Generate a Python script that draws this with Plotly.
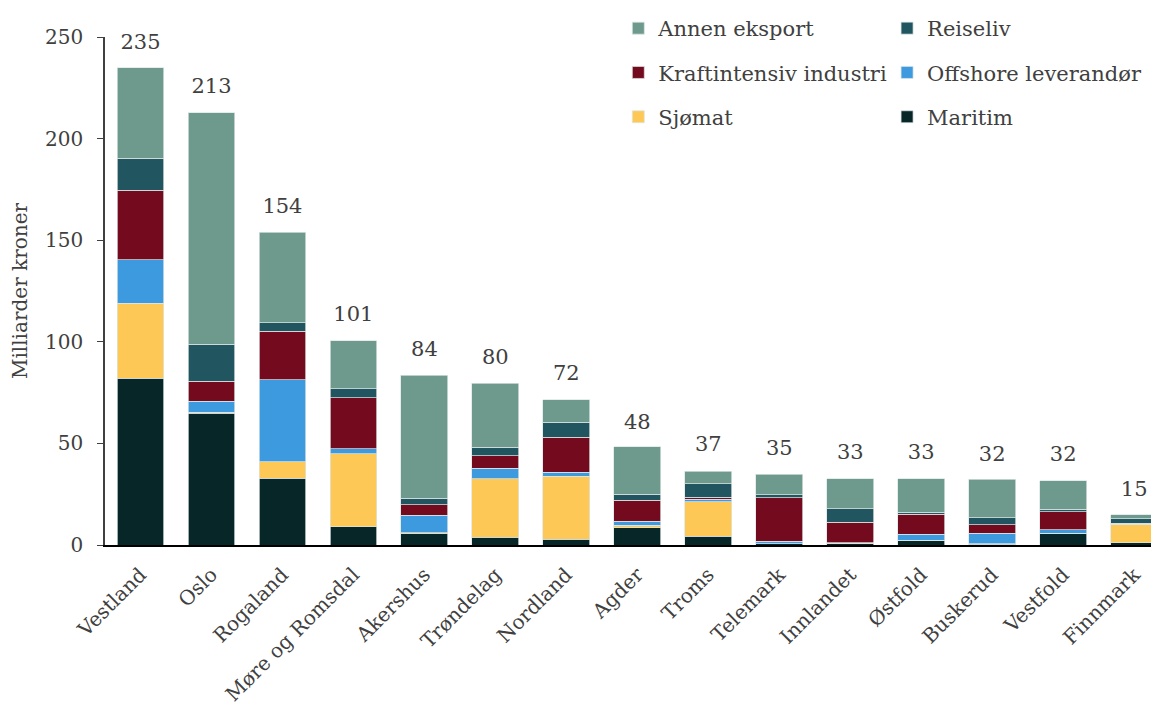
import plotly.graph_objects as go

# Eksport per fylke, milliarder kroner (lest av figuren)
fylker = ["Vestland", "Oslo", "Rogaland", "Møre og Romsdal", "Akershus", "Trøndelag",
          "Nordland", "Agder", "Troms", "Telemark", "Innlandet", "Østfold",
          "Buskerud", "Vestfold", "Finnmark"]

maritim = [82.0, 64.8, 32.9, 9.0, 5.5, 3.7, 2.8, 8.4, 4.4, 0.5, 0.5, 2.2, 0.3, 5.8, 1.1]
sjomat = [37.0, 0.6, 8.1, 35.8, 0.6, 28.9, 31.1, 1.3, 17.0, 0.0, 0.3, 0.2, 0.2, 0.0, 9.0]
offshore = [21.3, 5.3, 40.3, 2.6, 8.6, 5.1, 1.9, 1.9, 1.0, 1.3, 0.3, 2.9, 5.2, 1.6, 0.3]
kraft = [34.2, 9.9, 23.8, 25.0, 5.0, 6.3, 17.3, 10.5, 1.2, 21.4, 10.0, 9.8, 4.3, 8.9, 0.2]
reiseliv = [15.8, 18.2, 4.2, 4.4, 3.2, 4.0, 7.2, 2.9, 6.5, 1.5, 6.7, 1.0, 3.4, 1.3, 2.4]
annen = [44.6, 114.0, 44.7, 23.7, 60.6, 31.5, 11.3, 23.4, 6.3, 10.0, 14.7, 16.6, 19.0, 14.0, 2.0]

totaler = [235, 213, 154, 101, 84, 80, 72, 48, 37, 35, 33, 33, 32, 32, 15]

# navn, verdier, farge, legendekolonne, rad i legenden
serier = [
    ("Maritim", maritim, "#062628", "legend2", 3),
    ("Sjømat", sjomat, "#fec857", "legend", 3),
    ("Offshore leverandør", offshore, "#3d9ade", "legend2", 2),
    ("Kraftintensiv industri", kraft, "#740a1e", "legend", 2),
    ("Reiseliv", reiseliv, "#215560", "legend2", 1),
    ("Annen eksport", annen, "#6e9a8e", "legend", 1),
]

font_familie = "Georgia, 'DejaVu Serif', serif"
tekstfarge = "#404040"

fig = go.Figure()
for navn, verdier, farge, leg, rad in serier:
    fig.add_trace(go.Bar(
        x=fylker, y=verdier, name=navn, legend=leg, legendgroup=navn, legendrank=rad,
        marker=dict(color=farge, line=dict(color="rgba(220,228,228,0.9)", width=0.8)),
    ))

# Totaler over søylene
fig.add_trace(go.Scatter(
    x=fylker, y=totaler, mode="text+markers", text=[str(t) for t in totaler],
    textposition="top center", marker=dict(size=20, opacity=0),
    textfont=dict(family=font_familie, size=21, color=tekstfarge),
    showlegend=False, hoverinfo="skip", cliponaxis=False,
))

legende_stil = dict(
    orientation="v", traceorder="grouped", tracegroupgap=14,
    yanchor="top", xanchor="left",
    font=dict(size=21, color=tekstfarge), bgcolor="rgba(0,0,0,0)",
)

# siden ligger 8 px inn i vinduet, så figuren gjøres tilsvarende mindre
fig.update_layout(
    barmode="stack",
    bargap=0.34,
    width=1151, height=696,
    margin=dict(l=97, r=0, t=22, b=159),
    paper_bgcolor="white", plot_bgcolor="white",
    font=dict(family=font_familie, size=20, color=tekstfarge),
    legend=dict(x=0.487, y=1.058, **legende_stil),
    legend2=dict(x=0.742, y=1.058, **legende_stil),
    xaxis=dict(
        tickangle=-45, showline=True, linecolor="black", linewidth=2,
        ticks="", range=[-0.5, 14.35], tickfont=dict(size=20),
        ticklabelstandoff=8, automargin=False,
    ),
    yaxis=dict(
        range=[0, 250], tickvals=[0, 50, 100, 150, 200, 250],
        showline=True, linecolor="#404040", linewidth=1.5,
        ticks="outside", ticklen=6, tickcolor="#404040", ticklabelstandoff=10,
        showgrid=False, zeroline=False, tickfont=dict(size=20), automargin=False,
        title=dict(text="Milliarder kroner", font=dict(size=20), standoff=12),
    ),
)

fig.write_html("out.html")
